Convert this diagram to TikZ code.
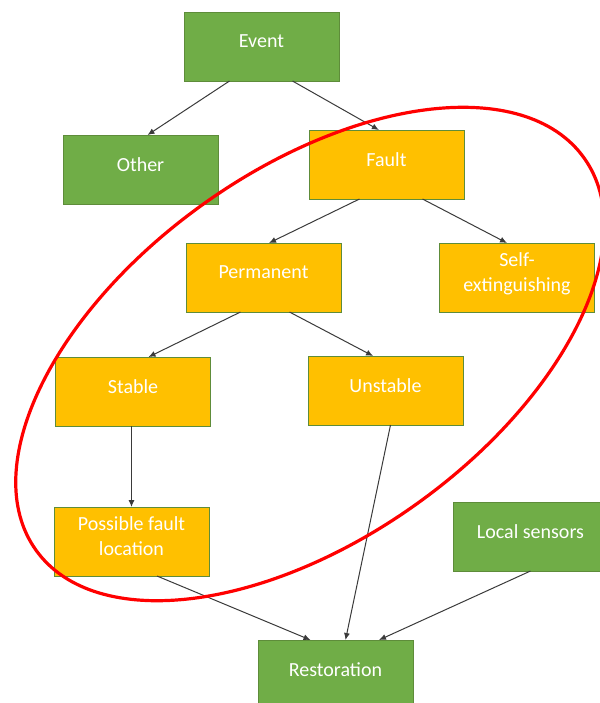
\documentclass[tikz,border=0pt]{standalone}
\usepackage{fontspec}
\setmainfont{Carlito}
\usetikzlibrary{arrows.meta, positioning}
\definecolor{evgreen}{HTML}{70AD47}
\definecolor{evgold}{HTML}{FFC000}
\definecolor{evline}{HTML}{5E8C3A}
\definecolor{evgray}{HTML}{3A3A3A}
\definecolor{evred}{HTML}{FF0000}
\tikzset{
  box/.style={rectangle, minimum width=77.5pt, minimum height=34.5pt, inner sep=1pt, outer sep=0pt,
    draw=evline, line width=0.5pt, font=\fontsize{10}{12.5}\selectfont, align=center,
    text=white, text depth=5pt},
  gbox/.style={box, fill=evgreen},
  ybox/.style={box, fill=evgold},
  arr/.style={-{Latex[length=3.5pt, width=3pt]}, line width=0.5pt, evgray},
  ring/.style={evred, line width=1.6pt},
}
\begin{document}
\begin{tikzpicture}[x=0.5pt, y=-0.5pt, node distance=22pt]
    \useasboundingbox (0,0) rectangle (600,703);
    \node[gbox] (event) at (261.5,46.5) {Event};
    \node[gbox, below=27pt of event, xshift=-60.5pt] (other) {Other};
    \node[ybox, below=24.5pt of event, xshift=62.5pt] (fault) {Fault};
    \node[ybox, below=22pt of fault, xshift=-61.5pt] (perm) {Permanent};
    \node[ybox, below=22pt of fault, xshift=65.25pt] (selfext) {Self-\\extinguishing};
    \node[ybox, below=22.5pt of perm, xshift=-65.25pt] (stable) {Stable};
    \node[ybox, below=22pt of perm, xshift=61pt] (unstable) {Unstable};
    \node[ybox, below=40.5pt of stable, xshift=-0.75pt] (pfl) {Possible fault\\location};
    \node[gbox, below=38.5pt of unstable, xshift=72.5pt] (local) {Local sensors};
    \node[gbox, below=107.5pt of unstable, xshift=-25pt] (resto) {Restoration};
    \draw[arr] ([xshift=-16pt]event.south) -- ([xshift=3.5pt]other.north);
    \draw[arr] ([xshift=15.5pt]event.south) -- ([xshift=-3.8pt]fault.north);
    \draw[arr] ([xshift=-13.5pt]fault.south) -- ([xshift=2.75pt]perm.north);
    \draw[arr] ([xshift=18pt]fault.south) -- ([xshift=-5pt]selfext.north);
    \draw[arr] ([xshift=-11.5pt]perm.south) -- ([xshift=7.75pt]stable.north);
    \draw[arr] ([xshift=13pt]perm.south) -- ([xshift=-6.2pt]unstable.north);
    \draw[arr] ([xshift=-0.75pt]stable.south) -- (pfl.north);
    \draw[arr] ([xshift=12.75pt]pfl.south) -- ([xshift=-12.5pt]resto.north);
    \draw[arr] ([xshift=2.5pt]unstable.south) -- ([xshift=5pt]resto.north);
    \draw[arr] (local.south) -- ([xshift=21.75pt]resto.north);
    \draw[ring, rotate around={35.6:(310,354)}] (310,354) ellipse [x radius=337, y radius=184];
  \end{tikzpicture}
\end{document}
